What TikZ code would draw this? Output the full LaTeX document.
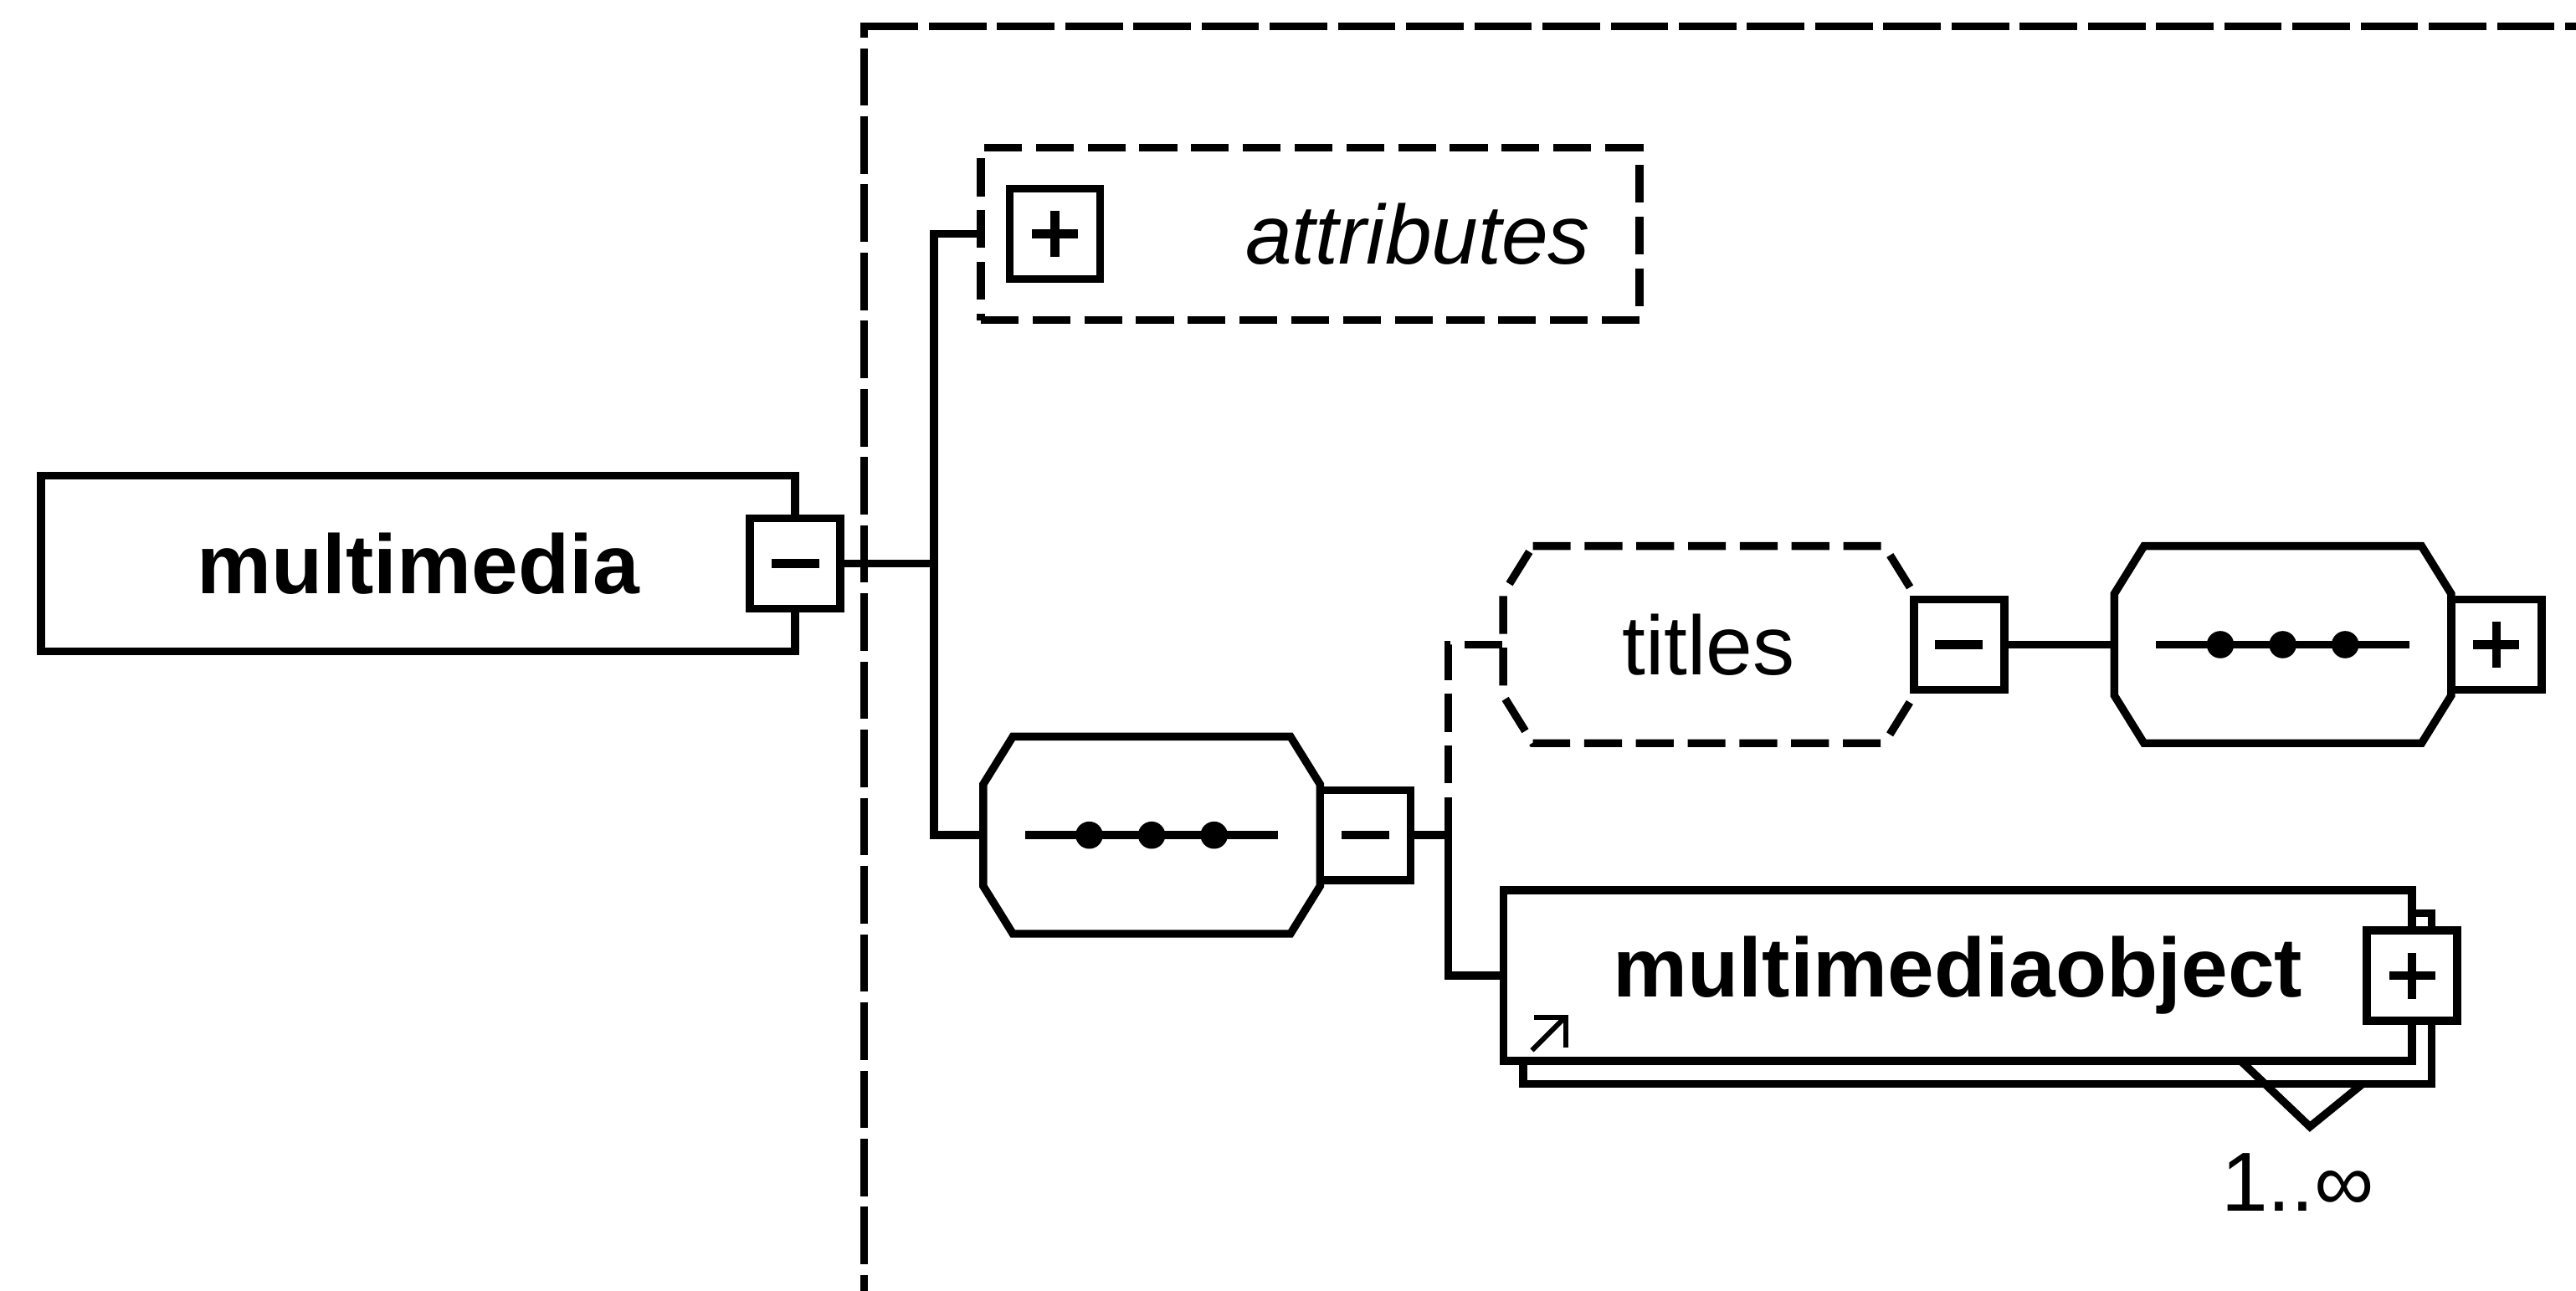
\documentclass[tikz,border=0pt]{standalone}
\usepackage{fontspec}
\setmainfont{Liberation Sans}
\usetikzlibrary{positioning}

\begin{document}
\begin{tikzpicture}[x=1pt, y=-1pt, line width=4.8pt,
  every node/.style={font=\fontsize{51}{61}\selectfont, inner sep=0pt, outer sep=0pt}]
\def\cx{18pt}
\def\cy{29pt}
% Achteck um einen Knoten
\def\octa#1#2{\draw[#1] ([xshift=\cx]#2.north west) -- ([xshift=-\cx]#2.north east)
    -- ([yshift=-\cy]#2.north east) -- ([yshift=\cy]#2.south east)
    -- ([xshift=-\cx]#2.south east) -- ([xshift=\cx]#2.south west)
    -- ([yshift=\cy]#2.south west) -- ([yshift=-\cy]#2.north west) -- cycle;}

\tikzstyle{frame}=[line width=4.2pt, dash pattern=on 35pt off 6.5pt]
\tikzstyle{link}=[line width=4.8pt]
\tikzstyle{opt link}=[link, dash pattern=on 23pt off 8.5pt]
\tikzstyle{elem node}=[draw, fill=white, rectangle, minimum height=105]
\tikzstyle{attr node}=[draw, fill=white, rectangle, dash pattern=on 23pt off 8.5pt]
\tikzstyle{octa node}=[rectangle, minimum height=120]
\tikzstyle{seq node}=[octa node, minimum width=205, path picture={
    \draw[line width=5pt] ([xshift=-77pt]path picture bounding box.center) -- ++(154,0);
    \foreach \d in {-38,0,38}
        \fill[black] ([xshift=\d pt]path picture bounding box.center) circle (8.3);}]
\tikzstyle{ctl node}=[draw, fill=white, rectangle, minimum size=55]
\tikzstyle{minus node}=[ctl node, path picture={
    \draw[line width=5.4pt] ([xshift=-14.5pt]path picture bounding box.center) -- ++(29,0);}]
\tikzstyle{plus node}=[ctl node, path picture={
    \draw[line width=5.4pt] ([xshift=-14pt]path picture bounding box.center) -- ++(28,0)
        ([yshift=14pt]path picture bounding box.center) -- ++(0,28);}]

\useasboundingbox (0,0) rectangle (1568,786);

% gestrichelter Rahmen
\coordinate (corner) at (526,16);
\draw[frame, dash phase=40.8pt] (526,812) -- (corner);
\draw[frame] ([xshift=-2.1pt]corner) -- (1600,16);

% Wurzelelement
\node[elem node, minimum width=459, minimum height=107] (mm) at (254.5,343) {\bfseries multimedia};
\node[minus node] (mmctl) at (mm.east) {};
\coordinate[right=57pt of mmctl] (fork1);

% Attribute
\node[attr node, minimum width=401, minimum height=105] (attr) at (797.5,142.5) {};
\node[plus node] (attrctl) at (642,142.5) {};
\node (attrtext) at (863,142.5) {\itshape attributes};

% Sequenz 1
\node[seq node] (seq1) at (701,508.5) {};
\octa{}{seq1}
\node[minus node, right=0pt of seq1] (seq1ctl) {};
\coordinate[right=23pt of seq1ctl] (fork2);

% Wurzel->Attribute, Sequenz
\draw[link] (mmctl.east) -- (fork1);
\draw[link] (attr.west) -| (fork1) |- (seq1.west);

% titles
\node[octa node, minimum width=250] (titles) at (1040,392.5) {titles};
\octa{dash pattern=on 23pt off 8.5pt}{titles}
\node[minus node, right=0pt of titles] (titlesctl) {};
\node[seq node, right=67pt of titlesctl] (seq2) {};
\octa{}{seq2}
\node[plus node, right=0pt of seq2] (seq2ctl) {};
\draw[link] (titlesctl.east) -- (seq2.west);

% multimediaobject (1..n)
\node[elem node, minimum width=553, minimum height=104] (mmobjback) at (1203.7,608) {};
\node[elem node, minimum width=553, minimum height=104] (mmobj) at (1191.7,594) {\bfseries multimediaobject};
\node[plus node] (mmobjctl) at (mmobj.east) {};
\draw[line width=3pt] (932.5,639.5) -- (953,619);
\draw[line width=3pt] (934,619.5) -- (953,619.5) -- (953,638);
\draw[link] (1364,646) -- (1406,686) -- (1438,660);
\node[anchor=base west] (occurs) at (1352,737.6) {1..∞};

% Sequenz 1->Kinder
\draw[opt link] (fork2) |- (titles.west);
\draw[link] (seq1ctl.east) -- (fork2) |- (mmobj.west);

\end{tikzpicture}
\end{document}
